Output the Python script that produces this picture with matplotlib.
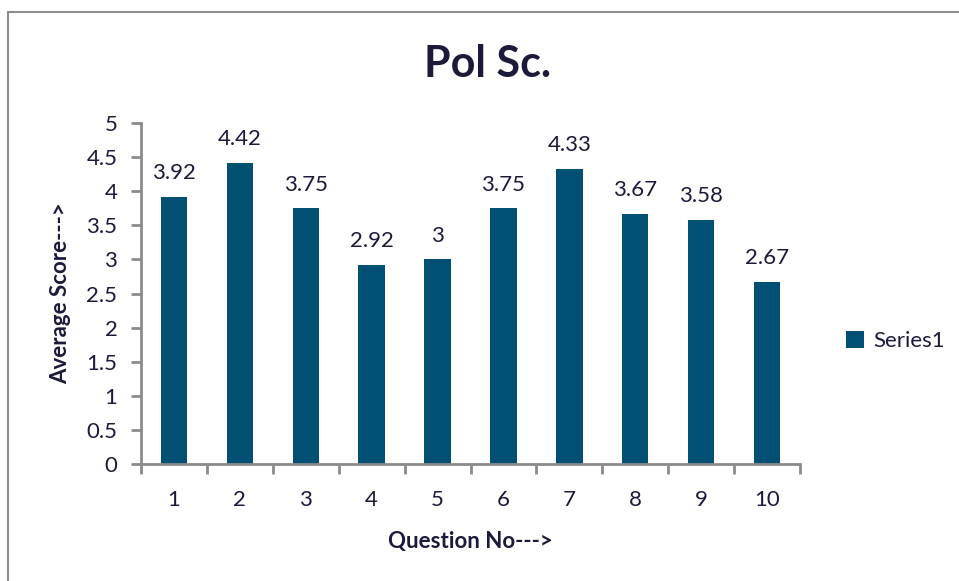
import matplotlib
matplotlib.use("Agg")
import matplotlib.pyplot as plt
from matplotlib.patches import Rectangle

# 数据
questions = ["1", "2", "3", "4", "5", "6", "7", "8", "9", "10"]
scores = [3.92, 4.42, 3.75, 2.92, 3, 3.75, 4.33, 3.67, 3.58, 2.67]
score_labels = ["3.92", "4.42", "3.75", "2.92", "3", "3.75", "4.33", "3.67", "3.58", "2.67"]
y_ticks = [0, 0.5, 1, 1.5, 2, 2.5, 3, 3.5, 4, 4.5, 5]
y_tick_labels = ["0", "0.5", "1", "1.5", "2", "2.5", "3", "3.5", "4", "4.5", "5"]

BAR_COLOR = "#014f73"
TEXT_COLOR = "#1b1a3a"
AXIS_COLOR = "#8c8c8c"

plt.rcParams["font.family"] = ["Lato", "DejaVu Sans"]

fig = plt.figure(figsize=(9.59, 5.81), dpi=100)
# 外框（只看得到左边和上边）
fig.patches.append(Rectangle((8 / 959, -0.1), 1.2, 1 - 12 / 581 + 0.1,
                             transform=fig.transFigure, fill=False,
                             edgecolor="#8c8c8c", linewidth=1.5))

ax = fig.add_axes([141 / 959, 1 - 464 / 581, 659 / 959, 341 / 581])
x = range(len(questions))
bars = ax.bar(x, scores, width=0.4, color=BAR_COLOR, label="Series1")

for xi, v, lab in zip(x, scores, score_labels):
    ax.text(xi, v + 0.2, lab, ha="center", va="bottom", fontsize=16, color=TEXT_COLOR)

ax.set_xlim(-0.5, len(questions) - 0.5)
ax.set_ylim(0, 5)
ax.set_yticks(y_ticks)
ax.set_yticklabels(y_tick_labels)
ax.set_xticks(list(x))
ax.set_xticklabels(questions)
ax.set_xticks([i - 0.5 for i in range(len(questions) + 1)], minor=True)

ax.tick_params(axis="x", which="major", length=0, pad=19, labelsize=16, labelcolor=TEXT_COLOR)
ax.tick_params(axis="x", which="minor", length=7, width=2, color=AXIS_COLOR, direction="out")
ax.tick_params(axis="y", length=7, width=2, color=AXIS_COLOR, pad=10, labelsize=16, labelcolor=TEXT_COLOR)

for s in ["top", "right"]:
    ax.spines[s].set_visible(False)
for s in ["left", "bottom"]:
    ax.spines[s].set_color(AXIS_COLOR)
    ax.spines[s].set_linewidth(2)

ax.set_xlabel("Question No--->", fontsize=16, fontweight="bold", color=TEXT_COLOR, labelpad=15)
ax.set_ylabel("Average Score--->", fontsize=16, fontweight="bold", color=TEXT_COLOR, labelpad=11)

fig.text(488 / 959, 1 - 64 / 581, "Pol Sc.", ha="center", va="center",
         fontsize=31, fontweight="bold", color=TEXT_COLOR)

ax.legend(loc="center left", bbox_to_anchor=(1.04, 0.36), frameon=False,
          fontsize=16, handlelength=0.8, handleheight=0.8, handletextpad=0.4,
          labelcolor=TEXT_COLOR)

fig.savefig("out.png", dpi=100)
